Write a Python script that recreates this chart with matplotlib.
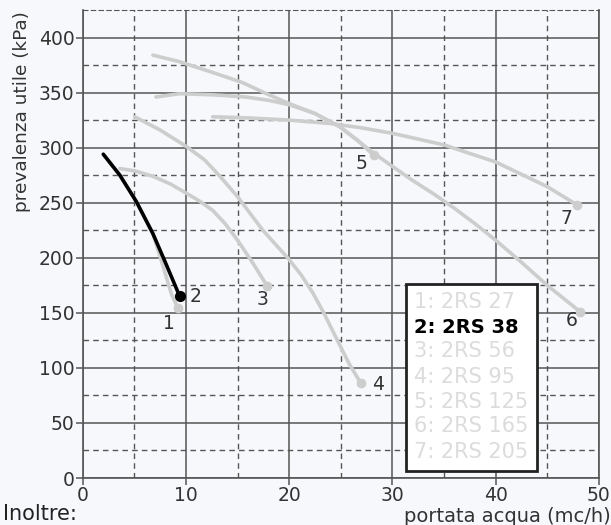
import matplotlib
matplotlib.use("Agg")
import matplotlib.pyplot as plt
from matplotlib.patches import Rectangle

# curve points (portata mc/h, prevalenza kPa)
c1_x = [2.0, 3.6, 5.2, 6.8, 7.8, 8.6, 9.24]
c1_y = [294, 275, 251, 222, 192, 167, 154]
c2_x = [2.0, 3.6, 5.2, 6.8, 8.0, 9.4]
c2_y = [294, 275, 251, 222, 196, 165]
c3_x = [3.6, 5.0, 6.8, 8.5, 10.05, 11.4, 12.6, 13.8, 15.0, 16.5, 17.9]
c3_y = [281, 279, 274, 267, 258.6, 251, 243, 231, 216, 195, 174]
c4_x = [5.05, 7.5, 10.05, 11.8, 13.3, 15.0, 17.45, 19.9, 21.2, 22.3, 23.3, 24.2, 25.8, 26.95]
c4_y = [328, 316, 301, 289, 274, 255.5, 225, 199.5, 184, 168, 151, 134, 104, 86]
c5_x = [6.8, 9.4, 13.0, 15.5, 17.8, 20.0, 22.5, 24.9, 26.6, 28.2]
c5_y = [384, 378, 367, 359, 349, 340, 331, 319, 307, 293]
c6_x = [7.1, 9.4, 12.5, 15.8, 18.0, 20.0, 22.5, 24.9, 28.2, 30.0,
        32.0, 34.0, 36.0, 38.0, 40.0, 42.5, 45.0, 48.2]
c6_y = [346, 349, 348, 346, 343, 339, 331, 319, 295, 283,
        270, 258, 245, 231, 216, 196, 175, 151]
c7_x = [12.6, 16.0, 20.0, 23.9, 27.0, 30.0, 35.0, 40.0, 45.0, 47.9]
c7_y = [328, 327, 325, 322, 318, 313, 302.5, 287, 264.6, 248]

curves = [(c1_x, c1_y), (c2_x, c2_y), (c3_x, c3_y), (c4_x, c4_y),
          (c5_x, c5_y), (c6_x, c6_y), (c7_x, c7_y)]
curve_labels = ["1", "2", "3", "4", "5", "6", "7"]
label_pos = [(8.4, 140), (10.95, 165), (17.4, 162), (28.6, 85),
             (27.0, 286), (47.4, 143), (46.9, 236)]
legend_items = ["1: 2RS 27", "2: 2RS 38", "3: 2RS 56", "4: 2RS 95",
                "5: 2RS 125", "6: 2RS 165", "7: 2RS 205"]
selected = 1

x_ticks = [0, 10, 20, 30, 40, 50]
y_ticks = [0, 50, 100, 150, 200, 250, 300, 350, 400]

light = "#cdcdcd"
bg = "#f7f8fb"

fig = plt.figure(figsize=(6.11, 5.25), dpi=100)
fig.patch.set_facecolor(bg)
ax = fig.add_axes([0.1353, 0.0895, 0.8447, 0.8915])
ax.set_facecolor(bg)

ax.set_xlim(0, 50)
ax.set_ylim(0, 425)
ax.set_xticks(x_ticks)
ax.set_yticks(y_ticks)
ax.set_xticks([5, 15, 25, 35, 45], minor=True)
ax.set_yticks([25, 75, 125, 175, 225, 275, 325, 375], minor=True)
ax.grid(which="major", color="#555555", lw=1.1, ls="-")
ax.grid(which="minor", color="#555555", lw=1.0, ls=(0, (4, 3)))
ax.tick_params(which="minor", length=0)
ax.tick_params(which="major", length=5, width=1.1, color="#555555",
               labelsize=13.5, labelcolor="#333333", pad=1)
for s in ["left", "bottom", "right"]:
    ax.spines[s].set_color("#555555")
    ax.spines[s].set_linewidth(1.2)
ax.spines["top"].set_color("#555555")
ax.spines["top"].set_linestyle((0, (4, 3)))
ax.set_axisbelow(True)

for i, (xs, ys) in enumerate(curves):
    if i == selected:
        continue
    ax.plot(xs, ys, color=light, lw=2.6, solid_capstyle="round",
            solid_joinstyle="round", zorder=3)
    ax.plot(xs[-1], ys[-1], "o", color=light, ms=6, zorder=3)
xs, ys = curves[selected]
ax.plot(xs, ys, color="black", lw=2.6, solid_capstyle="round",
        solid_joinstyle="round", zorder=4)
ax.plot(xs[-1], ys[-1], "o", color="black", ms=7, zorder=4)

for lab, (lx, ly) in zip(curve_labels, label_pos):
    ax.text(lx, ly, lab, fontsize=13.5, color="#333333", ha="center", va="center", zorder=5)

# legend box
ax.add_patch(Rectangle((31.3, 6.6), 12.7, 169.4, facecolor="white",
                       edgecolor="#222222", lw=2.0, zorder=6))
leg_y = [160, 137, 115, 92, 69, 47, 24]
for i, (txt, ty) in enumerate(zip(legend_items, leg_y)):
    if i == selected:
        ax.text(32.1, ty, txt, fontsize=14, color="black", fontweight="bold",
                va="center", ha="left", zorder=7)
    else:
        ax.text(32.1, ty, txt, fontsize=15, color="#dcdcdc",
                va="center", ha="left", zorder=7)

fig.text(0.036, 1 - 112 / 525, "prevalenza utile (kPa)", rotation=90,
         fontsize=13.3, color="#333333", ha="center", va="center")
fig.text(0.999, 1 - 517 / 525, "portata acqua (mc/h)", fontsize=14,
         color="#333333", ha="right", va="center")
fig.text(0.005, 1 - 520 / 525, "Inoltre:", fontsize=15, color="#222222",
         ha="left", va="baseline")

fig.savefig("out.png", dpi=100, facecolor=fig.get_facecolor())
